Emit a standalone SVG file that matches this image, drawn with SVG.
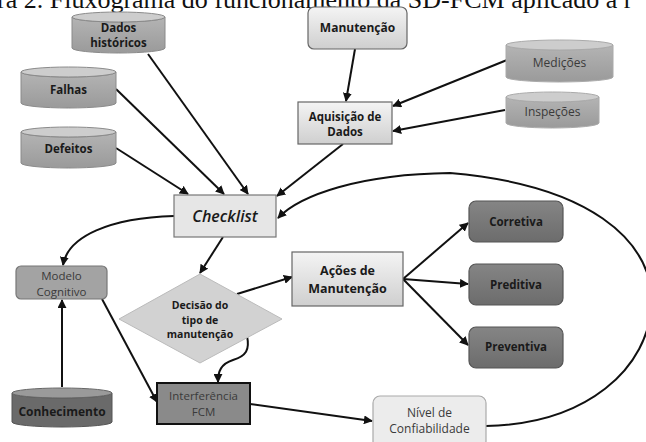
<svg xmlns="http://www.w3.org/2000/svg" width="646" height="442" viewBox="0 0 646 442">
<defs>
<linearGradient id="gLight" x1="0" y1="0" x2="0" y2="1"><stop offset="0" stop-color="#f4f4f4"/><stop offset="1" stop-color="#cfcfcf"/></linearGradient>
<linearGradient id="gCyl" x1="0" y1="0" x2="0" y2="1"><stop offset="0" stop-color="#b4b4b4"/><stop offset="1" stop-color="#9a9a9a"/></linearGradient>
<linearGradient id="gDark" x1="0" y1="0" x2="0" y2="1"><stop offset="0" stop-color="#858585"/><stop offset="1" stop-color="#6c6c6c"/></linearGradient>
<marker id="arr" viewBox="0 0 10 10" refX="9" refY="5" markerWidth="9" markerHeight="9" markerUnits="userSpaceOnUse" orient="auto"><path d="M0,0 L10,5 L0,10 Z" fill="#111"/></marker>
<style>
.t{font-family:"Open Sans","Liberation Sans",sans-serif;font-size:11.5px;text-anchor:middle;fill:#1a1a1a;font-weight:bold}
.n{font-family:"Open Sans","Liberation Sans",sans-serif;font-size:12px;text-anchor:middle;fill:#3a3a3a}
.cyl{fill:url(#gCyl);stroke:#8a8a8a;stroke-width:1}
.cyltop{fill:#cdcdcd;stroke:#8a8a8a;stroke-width:1}
.box{fill:url(#gLight);stroke:#666;stroke-width:1.2}
.dark{fill:url(#gDark);stroke:#555;stroke-width:1.2}
.c{fill:none;stroke:#111;stroke-width:2;marker-end:url(#arr)}
</style>
</defs>
<rect width="646" height="442" fill="#fff"/>
<text x="-3" y="8" font-family="Liberation Serif,serif" font-size="26" fill="#111">ra 2. Fluxograma do funcionamento da SD-FCM aplicado à r</text>

<g id="connectors">
<path class="c" d="M148,54 L248,194"/>
<path class="c" d="M116,89 L224,194"/>
<path class="c" d="M116,148 L188,194"/>
<path class="c" d="M343,144 L277,196"/>
<path class="c" d="M355,49 L346,101"/>
<path class="c" d="M507,60 L393,106"/>
<path class="c" d="M505,110 L393,131"/>
<path class="c" d="M174,216 C110,218 68,236 63,265"/>
<path class="c" d="M223,237 L200,273"/>
<path class="c" d="M237,294 L292,277"/>
<path class="c" d="M403,279 L468,223"/>
<path class="c" d="M403,279 L468,284"/>
<path class="c" d="M403,279 L468,345"/>
<path class="c" d="M247,336 C250,350 246,356 233,360 C221,364 218,371 218,382"/>
<path class="c" d="M102,299 L157,402"/>
<path class="c" d="M62,387 L62,300"/>
<path class="c" d="M250,404 L372,421"/>
<path class="c" d="M486,426 C585,424 650,370 652,300 C650,240 590,185 450,173 C360,174 300,195 278,218"/>
</g>

<g id="dados-historicos">
<path class="cyl" d="M72,17 A46.5,5 0 0 0 165,17 V48 A46.5,5 0 0 1 72,48 Z"/>
<ellipse class="cyltop" cx="118.5" cy="17" rx="46.5" ry="5"/>
<text class="t" x="118.5" y="31.5">Dados</text>
<text class="t" x="118.5" y="47">históricos</text>
</g>
<g id="falhas">
<path class="cyl" d="M21,72 A47.5,5 0 0 0 116,72 V103 A47.5,5 0 0 1 21,103 Z"/>
<ellipse class="cyltop" cx="68.5" cy="72" rx="47.5" ry="5"/>
<text class="t" x="68.5" y="94">Falhas</text>
</g>
<g id="defeitos">
<path class="cyl" d="M21,132 A47.5,5 0 0 0 116,132 V163 A47.5,5 0 0 1 21,163 Z"/>
<ellipse class="cyltop" cx="68.5" cy="132" rx="47.5" ry="5"/>
<text class="t" x="68.5" y="153">Defeitos</text>
</g>
<g id="medicoes">
<path class="cyl" d="M506,45 A53.5,5 0 0 0 613,45 V77 A53.5,5 0 0 1 506,77 Z" style="stroke:#aaa"/>
<ellipse class="cyltop" cx="559.5" cy="45" rx="53.5" ry="5" style="stroke:#aaa"/>
<text class="n" x="559.5" y="67">Medições</text>
</g>
<g id="inspecoes">
<path class="cyl" d="M506,97 A46.5,5 0 0 0 599,97 V123 A46.5,5 0 0 1 506,123 Z" style="stroke:#aaa"/>
<ellipse class="cyltop" cx="552.5" cy="97" rx="46.5" ry="5" style="stroke:#aaa"/>
<text class="n" x="552.5" y="116">Inspeções</text>
</g>
<g id="conhecimento">
<path d="M12,393 A50,5 0 0 0 112,393 V422 A50,5 0 0 1 12,422 Z" fill="#6a6a6a" stroke="#555"/>
<ellipse cx="62" cy="393" rx="50" ry="5" fill="#9a9a9a" stroke="#666"/>
<text class="t" x="62" y="416" style="font-size:12px">Conhecimento</text>
</g>

<g id="manutencao">
<rect class="box" x="308" y="7" width="99" height="42" rx="6"/>
<text class="t" x="357.5" y="32" style="font-size:12px">Manutenção</text>
</g>
<g id="aquisicao">
<rect class="box" x="298" y="102" width="94" height="42"/>
<text class="t" x="345" y="120.5">Aquisição de</text>
<text class="t" x="345" y="135.5">Dados</text>
</g>
<g id="checklist">
<rect x="174" y="195" width="102" height="42" fill="#e6e6e6" stroke="#777" stroke-width="1.2"/>
<text x="225" y="222" font-family="Open Sans,Liberation Sans,sans-serif" font-size="16" font-style="italic" font-weight="600" text-anchor="middle" fill="#1a1a1a">Checklist</text>
</g>
<g id="modelo-cognitivo">
<rect x="16" y="266" width="91" height="33" rx="5" fill="#a3a3a3" stroke="#777" stroke-width="1.2"/>
<text class="n" x="61.5" y="280" style="font-size:11.5px">Modelo</text>
<text class="n" x="61.5" y="295.5" style="font-size:11.5px">Cognitivo</text>
</g>
<g id="decisao">
<polygon points="200,274 282,319 200,363 119,319" fill="#d2d2d2" stroke="#bbb"/>
<text class="t" x="200" y="309" style="font-size:10.5px">Decisão do</text>
<text class="t" x="200" y="323.5" style="font-size:10.5px">tipo de</text>
<text class="t" x="200" y="338" style="font-size:10.5px">manutenção</text>
</g>
<g id="acoes">
<rect class="box" x="292" y="252" width="111" height="54"/>
<text class="t" x="347.5" y="275" style="font-size:12.5px">Ações de</text>
<text class="t" x="347.5" y="292.5" style="font-size:12.5px">Manutenção</text>
</g>
<g id="corretiva">
<rect class="dark" x="469" y="201" width="94" height="41" rx="7"/>
<text class="t" x="516" y="226">Corretiva</text>
</g>
<g id="preditiva">
<rect class="dark" x="469" y="264" width="94" height="41" rx="7"/>
<text class="t" x="516" y="289">Preditiva</text>
</g>
<g id="preventiva">
<rect class="dark" x="469" y="327" width="94" height="41" rx="7"/>
<text class="t" x="516" y="351">Preventiva</text>
</g>
<g id="interferencia">
<rect x="157" y="383" width="93" height="41" fill="#8a8a8a" stroke="#111" stroke-width="2"/>
<text class="n" x="203.5" y="399.5" style="font-size:11.5px">Interferência</text>
<text class="n" x="203.5" y="415.5" style="font-size:11.5px">FCM</text>
</g>
<g id="nivel">
<rect x="373" y="396" width="113" height="52" rx="7" fill="#ececec" stroke="#aaa" stroke-width="1.2"/>
<text class="n" x="429.5" y="417">Nível de</text>
<text class="n" x="429.5" y="432.5">Confiabilidade</text>
</g>
</svg>
